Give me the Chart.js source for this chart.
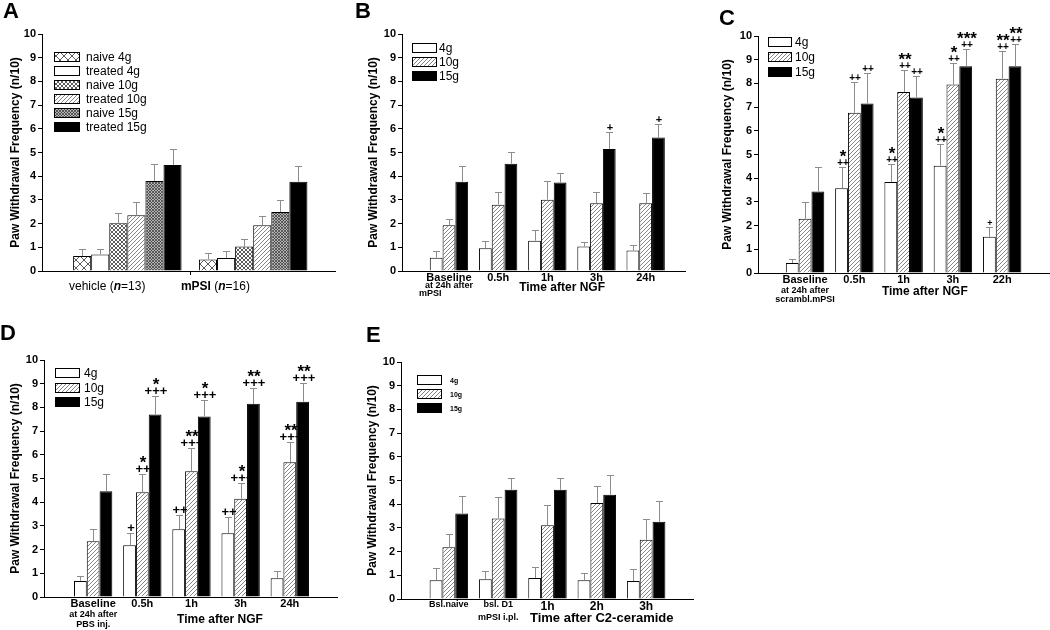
<!DOCTYPE html>
<html>
<head>
<meta charset="utf-8">
<script src="https://cdn.jsdelivr.net/npm/chart.js@4/dist/chart.umd.min.js"></script>
<style>
body { margin: 0; background: #fff; }
#page { position: relative; width: 1050px; height: 630px; overflow: hidden; font-family: 'Liberation Sans', Arial, sans-serif; }
#page canvas { position: absolute; }
.letter { position: absolute; font-weight: bold; font-size: 22px; line-height: 22px; }
</style>
</head>
<body>
<div id="page">
  <canvas id="chartA" width="350" height="310" style="left:0;top:0"></canvas>
  <canvas id="chartB" width="350" height="310" style="left:350px;top:0"></canvas>
  <canvas id="chartC" width="350" height="310" style="left:700px;top:0"></canvas>
  <canvas id="chartD" width="350" height="320" style="left:0;top:310px"></canvas>
  <canvas id="chartE" width="350" height="320" style="left:350px;top:310px"></canvas>
  <div class="letter" style="left:3px;top:0">A</div>
  <div class="letter" style="left:355px;top:0">B</div>
  <div class="letter" style="left:719px;top:7px">C</div>
  <div class="letter" style="left:0;top:322px">D</div>
  <div class="letter" style="left:366px;top:324px">E</div>
</div>
<script>
// ---- panel A: naive vs treated paws
var aGroups = ['vehicle', 'mPSI'];
var aN = [13, 16];
var aNaive4 = [0.63, 0.49];
var aNaive4Err = [0.28, 0.26];
var aTreated4 = [0.70, 0.55];
var aTreated4Err = [0.21, 0.29];
var aNaive10 = [2.01, 1.03];
var aNaive10Err = [0.42, 0.31];
var aTreated10 = [2.35, 1.93];
var aTreated10Err = [0.55, 0.39];
var aNaive15 = [3.80, 2.49];
var aNaive15Err = [0.70, 0.49];
var aTreated15 = [4.47, 3.77];
var aTreated15Err = [0.69, 0.66];

// ---- panel B: time after NGF (mPSI)
var bTimes = ['Baseline', '0.5h', '1h', '3h', '24h'];
var b4g = [0.56, 0.96, 1.28, 1.03, 0.86];
var b4gErr = [0.30, 0.29, 0.45, 0.21, 0.24];
var b10g = [1.93, 2.80, 3.01, 2.86, 2.86];
var b10gErr = [0.28, 0.53, 0.79, 0.49, 0.44];
var b15g = [3.77, 4.53, 3.73, 5.15, 5.63];
var b15gErr = [0.66, 0.51, 0.42, 0.70, 0.57];
var b15gMarks = ['', '', '', '+', '+'];

// ---- panel C: time after NGF (scrambled mPSI)
var cTimes = ['Baseline', '0.5h', '1h', '3h', '22h'];
var c4g = [0.42, 3.58, 3.84, 4.53, 1.53];
var c4gErr = [0.17, 0.88, 0.75, 0.90, 0.41];
var c4gMarks = ['', '*\n++', '*\n++', '*\n++', '+'];
var c10g = [2.29, 6.76, 7.64, 7.95, 8.20];
var c10gErr = [0.71, 1.30, 0.94, 0.89, 1.15];
var c10gMarks = ['', '++', '**\n++', '*\n++', '**\n++'];
var c15g = [3.44, 7.15, 7.41, 8.72, 8.72];
var c15gErr = [1.02, 1.29, 0.91, 0.75, 0.96];
var c15gMarks = ['', '++', '++', '***\n++', '**\n++'];

// ---- panel D: time after NGF (PBS)
var dTimes = ['Baseline', '0.5h', '1h', '3h', '24h'];
var d4g = [0.68, 2.18, 2.86, 2.69, 0.79];
var d4gErr = [0.21, 0.52, 0.62, 0.68, 0.31];
var d4gMarks = ['', '+', '++', '++', ''];
var d10g = [2.35, 4.42, 5.31, 4.15, 5.69];
var d10gErr = [0.54, 0.78, 0.96, 0.68, 0.83];
var d10gMarks = ['', '*\n++', '**\n+++', '*\n+++', '**\n+++'];
var d15g = [4.46, 7.70, 7.62, 8.15, 8.24];
var d15gErr = [0.71, 0.76, 0.69, 0.68, 0.79];
var d15gMarks = ['', '*\n+++', '*\n+++', '**\n+++', '**\n+++'];

// ---- panel E: time after C2-ceramide
var eTimes = ['Bsl.naive', 'bsl. D1', '1h', '2h', '3h'];
var e4g = [0.79, 0.83, 0.89, 0.79, 0.76];
var e4gErr = [0.52, 0.37, 0.47, 0.31, 0.49];
var e10g = [2.18, 3.40, 3.11, 4.05, 2.50];
var e10gErr = [0.56, 0.90, 0.87, 0.70, 0.89];
var e15g = [3.61, 4.61, 4.61, 4.40, 3.26];
var e15gErr = [0.72, 0.49, 0.49, 0.83, 0.86];

var yMax = 10;
var yTitle = 'Paw Withdrawal Frequency (n/10)';

Chart.defaults.font.family = "'Liberation Sans', Arial, sans-serif";
Chart.defaults.color = '#000';

function pattern(kind) {
    var n = {hatch: 4, crossBig: 8, crossMid: 4, crossDense: 3}[kind];
    var c = document.createElement('canvas');
    c.width = c.height = n;
    var g = c.getContext('2d');
    g.fillStyle = kind == 'crossDense' ? '#b4b4b4' : '#fff';
    g.fillRect(0, 0, n, n);
    g.strokeStyle = kind == 'hatch' ? '#666' : '#333';
    g.lineWidth = kind == 'crossDense' ? 0.7 : 0.8;
    g.beginPath();
    g.moveTo(-1, n + 1); g.lineTo(n + 1, -1);
    g.moveTo(-1, 1); g.lineTo(1, -1);
    g.moveTo(n - 1, n + 1); g.lineTo(n + 1, n - 1);
    if (kind != 'hatch') {
        g.moveTo(-1, -1); g.lineTo(n + 1, n + 1);
        g.moveTo(n - 1, -1); g.lineTo(n + 1, 1);
        g.moveTo(-1, n - 1); g.lineTo(1, n + 1);
    }
    g.stroke();
    return g.createPattern(c, 'repeat');
}

var fills = {
    white: '#fff',
    black: '#000',
    hatch: pattern('hatch'),
    crossBig: pattern('crossBig'),
    crossMid: pattern('crossMid'),
    crossDense: pattern('crossDense')
};

function bars(label, vals, errs, fill, marks) {
    return {
        label: label,
        data: vals.map(function(v, i) { return {x: i + 1, y: v}; }),
        errors: errs,
        marks: marks || [],
        backgroundColor: fill,
        borderColor: '#000',
        borderWidth: 1
    };
}

// error bars, significance marks, legend and extra axis text
function decor(o) {
    return {
        id: 'decor',
        afterDatasetsDraw: function(chart) {
            var c = chart.ctx, ys = chart.scales.y;
            chart.data.datasets.forEach(function(ds, i) {
                var meta = chart.getDatasetMeta(i);
                meta.data.forEach(function(bar, j) {
                    var top = Math.round(ys.getPixelForValue(ds.data[j].y + ds.errors[j]));
                    var x = Math.round(bar.x);
                    c.save();
                    c.strokeStyle = '#8c8c8c';
                    c.lineWidth = 1;
                    c.beginPath();
                    c.moveTo(x + 0.5, bar.y);
                    c.lineTo(x + 0.5, top);
                    c.moveTo(x - 3, top + 0.5);
                    c.lineTo(x + 4, top + 0.5);
                    c.stroke();
                    var m = ds.marks[j];
                    if (m) {
                        c.fillStyle = '#000';
                        c.textAlign = 'center';
                        c.textBaseline = 'alphabetic';
                        var cursor = top - 2;
                        m.split('\n').reverse().forEach(function(t) {
                            c.font = t.indexOf('*') >= 0 ? o.starFont : (t == '+' && o.singlePlusFont ? o.singlePlusFont : o.plusFont);
                            var mt = c.measureText(t);
                            var base = cursor - mt.actualBoundingBoxDescent;
                            c.fillText(t, x + 1, base);
                            cursor = base - mt.actualBoundingBoxAscent - 2;
                        });
                    }
                    c.restore();
                });
            });
        },
        afterDraw: function(chart) {
            var c = chart.ctx, xs = chart.scales.x, L = o.legend;
            c.save();
            chart.data.datasets.forEach(function(ds, i) {
                var y = Math.round(L.top + i * L.step);
                c.fillStyle = ds.backgroundColor;
                c.fillRect(L.left, y, L.w, L.h);
                c.strokeStyle = '#000';
                c.lineWidth = 1;
                c.strokeRect(L.left + 0.5, y + 0.5, L.w - 1, L.h - 1);
                c.fillStyle = '#000';
                c.font = L.font;
                c.textAlign = 'left';
                c.textBaseline = 'middle';
                c.fillText(ds.label, L.textX, y + L.h / 2 + 1);
            });
            c.textBaseline = 'middle';
            (o.texts || []).forEach(function(t) {
                var px = xs.getPixelForValue(t.x) + (t.dx || 0);
                var py = chart.chartArea.bottom + t.dy;
                var parts = t.parts || [[t.text, t.font]];
                var total = 0;
                parts.forEach(function(p) { c.font = p[1]; total += c.measureText(p[0]).width; });
                var start = t.align == 'left' ? px : px - total / 2;
                c.textAlign = 'left';
                parts.forEach(function(p) {
                    c.font = p[1];
                    c.fillText(p[0], start, py);
                    start += c.measureText(p[0]).width;
                });
            });
            c.restore();
        }
    };
}

function buildChart(id, o) {
    var cv = document.getElementById(id);
    var a = o.area;
    // panel A carries an extra unlabeled tick halfway between the two groups
    var tickVals = o.cats.map(function(c, i) { return i + 1; });
    if (o.midTick) tickVals.splice(1, 0, 1.5);
    return new Chart(cv, {
        type: 'bar',
        data: {datasets: o.datasets},
        options: {
            responsive: false,
            animation: false,
            layout: {padding: {left: 0, top: a.top, right: cv.width - a.right, bottom: cv.height - a.bottom - 20}},
            datasets: {bar: {barPercentage: 1, categoryPercentage: o.groupWidth}},
            plugins: {legend: {display: false}, tooltip: {enabled: false}},
            scales: {
                x: {
                    type: 'linear',
                    offset: false,
                    min: o.xMin,
                    max: o.xMax,
                    afterBuildTicks: function(s) {
                        s.ticks = tickVals.map(function(v) { return {value: v}; });
                    },
                    afterFit: function(s) { s.height = 20; },
                    ticks: {
                        display: o.showTicks,
                        autoSkip: false,
                        maxRotation: 0,
                        padding: 0,
                        color: '#000',
                        font: o.tickFont || {size: 11, weight: 'bold'},
                        callback: function(v) { return Number.isInteger(v) ? (o.cats[v - 1] || '') : ''; }
                    },
                    grid: {
                        drawOnChartArea: false,
                        drawTicks: !!o.midTick,
                        tickLength: 4,
                        offset: false,
                        tickColor: function(ctx) { return ctx.tick && ctx.tick.value == 1.5 ? '#000' : 'transparent'; }
                    },
                    border: {color: '#000', width: 1}
                },
                y: {
                    min: 0,
                    max: yMax,
                    afterFit: function(s) { s.width = a.left; },
                    ticks: {
                        stepSize: 0.5,
                        padding: 2,
                        color: '#000',
                        font: {size: 11, weight: 'bold'},
                        callback: function(v) { return Number.isInteger(v) ? v : ''; }
                    },
                    grid: {drawOnChartArea: false, tickLength: 4, color: '#000'},
                    border: {color: '#000', width: 1},
                    title: {
                        display: true,
                        text: yTitle,
                        color: '#000',
                        font: {size: 12, weight: 'bold'},
                        padding: {top: o.yTitlePad, bottom: 0}
                    }
                }
            }
        },
        plugins: [decor(o)]
    });
}

buildChart('chartA', {
    area: {left: 42, right: 335, top: 34, bottom: 271},
    xMin: 0.322, xMax: 2.65, groupWidth: 1.724, yTitlePad: 8,
    cats: aGroups, showTicks: false, midTick: true,
    datasets: [
        bars('naive 4g', aNaive4, aNaive4Err, fills.crossBig),
        bars('treated 4g', aTreated4, aTreated4Err, fills.white),
        bars('naive 10g', aNaive10, aNaive10Err, fills.crossMid),
        bars('treated 10g', aTreated10, aTreated10Err, fills.hatch),
        bars('naive 15g', aNaive15, aNaive15Err, fills.crossDense),
        bars('treated 15g', aTreated15, aTreated15Err, fills.black)
    ],
    legend: {left: 54, top: 52, w: 26, h: 10, step: 14, textX: 86, font: '12px "Liberation Sans", Arial'},
    texts: [
        {x: 0.84, dy: 16, parts: [[aGroups[0] + ' (', '12px "Liberation Sans"'], ['n', 'italic bold 12px "Liberation Sans"'], ['=' + aN[0] + ')', '12px "Liberation Sans"']]},
        {x: 1.70, dy: 16, parts: [[aGroups[1], 'bold 12px "Liberation Sans"'], [' (', '12px "Liberation Sans"'], ['n', 'italic bold 12px "Liberation Sans"'], ['=' + aN[1] + ')', '12px "Liberation Sans"']]}
    ]
});

buildChart('chartB', {
    area: {left: 52, right: 335, top: 34, bottom: 271},
    xMin: 0.045, xMax: 5.8, groupWidth: 0.78, yTitlePad: 16,
    cats: bTimes, showTicks: true,
    datasets: [
        bars('4g', b4g, b4gErr, fills.white),
        bars('10g', b10g, b10gErr, fills.hatch),
        bars('15g', b15g, b15gErr, fills.black, b15gMarks)
    ],
    starFont: 'bold 17px "Liberation Sans"', plusFont: 'bold 11px "Liberation Sans"',
    legend: {left: 62, top: 43, w: 25, h: 10, step: 14, textX: 89, font: '12px "Liberation Sans", Arial'},
    texts: [
        {x: 1, dy: 15, text: 'at 24h after', font: 'bold 9px "Liberation Sans"'},
        {x: 1, dx: -30, dy: 23, align: 'left', text: 'mPSI', font: 'bold 9px "Liberation Sans"'},
        {x: 3.3, dy: 17, text: 'Time after NGF', font: 'bold 12px "Liberation Sans"'}
    ]
});

buildChart('chartC', {
    area: {left: 58, right: 349, top: 36, bottom: 273},
    xMin: 0.045, xMax: 5.95, groupWidth: 0.78, yTitlePad: 20,
    cats: cTimes, showTicks: true,
    datasets: [
        bars('4g', c4g, c4gErr, fills.white, c4gMarks),
        bars('10g', c10g, c10gErr, fills.hatch, c10gMarks),
        bars('15g', c15g, c15gErr, fills.black, c15gMarks)
    ],
    starFont: 'bold 17px "Liberation Sans"', plusFont: 'bold 10px "Liberation Sans"', singlePlusFont: 'bold 9px "Liberation Sans"',
    legend: {left: 68, top: 37, w: 24, h: 10, step: 15, textX: 95, font: '12px "Liberation Sans", Arial'},
    texts: [
        {x: 1, dy: 18, text: 'at 24h after', font: 'bold 9px "Liberation Sans"'},
        {x: 1, dy: 27, text: 'scrambl.mPSI', font: 'bold 9px "Liberation Sans"'},
        {x: 3.43, dy: 19, text: 'Time after NGF', font: 'bold 12px "Liberation Sans"'}
    ]
});

buildChart('chartD', {
    area: {left: 44, right: 337, top: 50, bottom: 287},
    xMin: 0, xMax: 5.96, groupWidth: 0.78, yTitlePad: 8,
    cats: dTimes, showTicks: true,
    datasets: [
        bars('4g', d4g, d4gErr, fills.white, d4gMarks),
        bars('10g', d10g, d10gErr, fills.hatch, d10gMarks),
        bars('15g', d15g, d15gErr, fills.black, d15gMarks)
    ],
    starFont: 'bold 17px "Liberation Sans"', plusFont: 'bold 13px "Liberation Sans"',
    legend: {left: 55, top: 58, w: 25, h: 10, step: 14.5, textX: 84, font: '12px "Liberation Sans", Arial'},
    texts: [
        {x: 1, dy: 18, text: 'at 24h after', font: 'bold 9px "Liberation Sans"'},
        {x: 1, dy: 28, text: 'PBS inj.', font: 'bold 9px "Liberation Sans"'},
        {x: 3.58, dy: 23, text: 'Time after NGF', font: 'bold 12px "Liberation Sans"'}
    ]
});

buildChart('chartE', {
    area: {left: 51, right: 343, top: 52, bottom: 289},
    xMin: 0.03, xMax: 5.95, groupWidth: 0.78, yTitlePad: 15,
    cats: eTimes, showTicks: true,
    tickFont: function(ctx) { return ctx.index < 2 ? {size: 9, weight: 'bold'} : {size: 12, weight: 'bold'}; },
    datasets: [
        bars('4g', e4g, e4gErr, fills.white),
        bars('10g', e10g, e10gErr, fills.hatch),
        bars('15g', e15g, e15gErr, fills.black)
    ],
    legend: {left: 67, top: 65, w: 25, h: 10, step: 14, textX: 100, font: 'bold 7px "Liberation Sans", Arial'},
    texts: [
        {x: 2, dy: 19, text: 'mPSI i.pl.', font: 'bold 9px "Liberation Sans"'},
        {x: 4.1, dy: 19, text: 'Time after C2-ceramide', font: 'bold 13px "Liberation Sans"'}
    ]
});
</script>
</body>
</html>
